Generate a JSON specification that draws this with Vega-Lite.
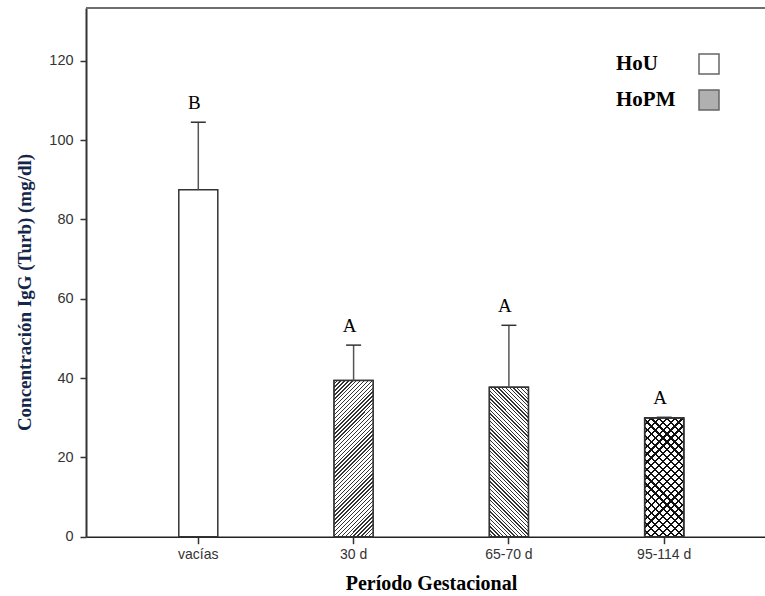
{
  "$schema": "https://vega.github.io/schema/vega-lite/v6.json",
  "width": 679,
  "height": 528.7,
  "autosize": {"type": "none"},
  "padding": {"left": 86, "top": 8, "right": 0, "bottom": 59},
  "background": "white",
  "config": {"view": {"stroke": null}, "font": "Liberation Sans"},
  "data": {
    "values": [
      {"period": "vacías", "group": "HoU", "value": 87.5, "errTop": 104.5, "letter": "B"},
      {"period": "30 d", "group": "HoPM", "value": 39.4, "errTop": 48.3, "letter": "A"},
      {"period": "65-70 d", "group": "HoPM", "value": 37.7, "errTop": 53.3, "letter": "A"},
      {"period": "95-114 d", "group": "HoPM", "value": 29.9, "errTop": 30.1, "letter": "A"}
    ]
  },
  "layer": [
    {
      "mark": {"type": "bar", "width": 39, "stroke": "#333", "strokeWidth": 1.5},
      "encoding": {
        "x": {
          "field": "period", "type": "nominal",
          "sort": ["vacías", "30 d", "65-70 d", "95-114 d"],
          "scale": {"paddingInner": 0, "paddingOuter": 0.186, "align": 0.5995},
          "axis": {
            "title": "Período Gestacional",
            "titleFont": "Liberation Serif", "titleFontSize": 20, "titleFontWeight": "bold", "titleColor": "#000",
            "titleX": 345, "titleY": 53, "titleBaseline": "alphabetic", "titleAlign": "center",
            "labelAngle": 0, "labelFont": "Liberation Sans", "labelFontSize": 14, "labelColor": "#333", "labelPadding": 4,
            "tickSize": 7, "tickColor": "#333", "tickWidth": 1.5,
            "domainColor": "#222", "domainWidth": 1.5, "grid": false
          }
        },
        "y": {
          "field": "value", "type": "quantitative",
          "title": "Concentración IgG (Turb) (mg/dl)",
          "scale": {"domain": [0, 133.3], "nice": false, "zero": true},
          "axis": {
            "title": "Concentración IgG (Turb) (mg/dl)",
            "values": [0, 20, 40, 60, 80, 100, 120],
            "titleFont": "Liberation Serif", "titleFontSize": 19, "titleFontWeight": "bold", "titleColor": "#14264a",
            "titleAngle": -90, "titleX": -56, "titleY": 284, "titleBaseline": "alphabetic", "titleAlign": "center",
            "labelFont": "Liberation Sans", "labelFontSize": 14.5, "labelColor": "#333", "labelPadding": 7,
            "tickSize": 6, "tickColor": "#333", "tickWidth": 1.5,
            "domainColor": "#333", "domainWidth": 2, "grid": false
          }
        },
        "fill": {
          "field": "group", "type": "nominal",
          "scale": {"domain": ["HoU", "HoPM"], "range": ["#ffffff", "#b0b0b0"]},
          "legend": {
            "title": null, "orient": "none", "legendX": 612, "legendY": 45,
            "symbolType": "square", "symbolSize": 400, "symbolStrokeColor": "#666", "symbolStrokeWidth": 1.5, "symbolOpacity": 1,
            "labelFont": "Liberation Serif", "labelFontSize": 21, "labelFontWeight": "bold", "labelColor": "#000",
            "labelAlign": "left", "labelOffset": -104, "rowPadding": 10, "padding": 0
          }
        }
      }
    },
    {
      "transform": [{"filter": "datum.period === '30 d'"}],
      "mark": {
        "type": "bar", "width": 39, "stroke": "#333", "strokeWidth": 1.5,
        "fill": {
          "gradient": "linear", "x1": 0, "y1": 0, "x2": 0.2937, "y2": 1.1764,
          "stops": [
{"offset":0,"color":"#fff"},{"offset":0.013,"color":"#fff"},{"offset":0.013,"color":"#333"},{"offset":0.02,"color":"#333"},
{"offset":0.02,"color":"#fff"},{"offset":0.033,"color":"#fff"},{"offset":0.033,"color":"#333"},{"offset":0.04,"color":"#333"},
{"offset":0.04,"color":"#fff"},{"offset":0.053,"color":"#fff"},{"offset":0.053,"color":"#333"},{"offset":0.06,"color":"#333"},
{"offset":0.06,"color":"#fff"},{"offset":0.073,"color":"#fff"},{"offset":0.073,"color":"#333"},{"offset":0.08,"color":"#333"},
{"offset":0.08,"color":"#fff"},{"offset":0.093,"color":"#fff"},{"offset":0.093,"color":"#333"},{"offset":0.1,"color":"#333"},
{"offset":0.1,"color":"#fff"},{"offset":0.113,"color":"#fff"},{"offset":0.113,"color":"#333"},{"offset":0.12,"color":"#333"},
{"offset":0.12,"color":"#fff"},{"offset":0.133,"color":"#fff"},{"offset":0.133,"color":"#333"},{"offset":0.14,"color":"#333"},
{"offset":0.14,"color":"#fff"},{"offset":0.153,"color":"#fff"},{"offset":0.153,"color":"#333"},{"offset":0.16,"color":"#333"},
{"offset":0.16,"color":"#fff"},{"offset":0.173,"color":"#fff"},{"offset":0.173,"color":"#333"},{"offset":0.18,"color":"#333"},
{"offset":0.18,"color":"#fff"},{"offset":0.193,"color":"#fff"},{"offset":0.193,"color":"#333"},{"offset":0.2,"color":"#333"},
{"offset":0.2,"color":"#fff"},{"offset":0.213,"color":"#fff"},{"offset":0.213,"color":"#333"},{"offset":0.22,"color":"#333"},
{"offset":0.22,"color":"#fff"},{"offset":0.233,"color":"#fff"},{"offset":0.233,"color":"#333"},{"offset":0.24,"color":"#333"},
{"offset":0.24,"color":"#fff"},{"offset":0.253,"color":"#fff"},{"offset":0.253,"color":"#333"},{"offset":0.26,"color":"#333"},
{"offset":0.26,"color":"#fff"},{"offset":0.273,"color":"#fff"},{"offset":0.273,"color":"#333"},{"offset":0.28,"color":"#333"},
{"offset":0.28,"color":"#fff"},{"offset":0.293,"color":"#fff"},{"offset":0.293,"color":"#333"},{"offset":0.3,"color":"#333"},
{"offset":0.3,"color":"#fff"},{"offset":0.313,"color":"#fff"},{"offset":0.313,"color":"#333"},{"offset":0.32,"color":"#333"},
{"offset":0.32,"color":"#fff"},{"offset":0.333,"color":"#fff"},{"offset":0.333,"color":"#333"},{"offset":0.34,"color":"#333"},
{"offset":0.34,"color":"#fff"},{"offset":0.353,"color":"#fff"},{"offset":0.353,"color":"#333"},{"offset":0.36,"color":"#333"},
{"offset":0.36,"color":"#fff"},{"offset":0.373,"color":"#fff"},{"offset":0.373,"color":"#333"},{"offset":0.38,"color":"#333"},
{"offset":0.38,"color":"#fff"},{"offset":0.393,"color":"#fff"},{"offset":0.393,"color":"#333"},{"offset":0.4,"color":"#333"},
{"offset":0.4,"color":"#fff"},{"offset":0.413,"color":"#fff"},{"offset":0.413,"color":"#333"},{"offset":0.42,"color":"#333"},
{"offset":0.42,"color":"#fff"},{"offset":0.433,"color":"#fff"},{"offset":0.433,"color":"#333"},{"offset":0.44,"color":"#333"},
{"offset":0.44,"color":"#fff"},{"offset":0.453,"color":"#fff"},{"offset":0.453,"color":"#333"},{"offset":0.46,"color":"#333"},
{"offset":0.46,"color":"#fff"},{"offset":0.473,"color":"#fff"},{"offset":0.473,"color":"#333"},{"offset":0.48,"color":"#333"},
{"offset":0.48,"color":"#fff"},{"offset":0.493,"color":"#fff"},{"offset":0.493,"color":"#333"},{"offset":0.5,"color":"#333"},
{"offset":0.5,"color":"#fff"},{"offset":0.513,"color":"#fff"},{"offset":0.513,"color":"#333"},{"offset":0.52,"color":"#333"},
{"offset":0.52,"color":"#fff"},{"offset":0.533,"color":"#fff"},{"offset":0.533,"color":"#333"},{"offset":0.54,"color":"#333"},
{"offset":0.54,"color":"#fff"},{"offset":0.553,"color":"#fff"},{"offset":0.553,"color":"#333"},{"offset":0.56,"color":"#333"},
{"offset":0.56,"color":"#fff"},{"offset":0.573,"color":"#fff"},{"offset":0.573,"color":"#333"},{"offset":0.58,"color":"#333"},
{"offset":0.58,"color":"#fff"},{"offset":0.593,"color":"#fff"},{"offset":0.593,"color":"#333"},{"offset":0.6,"color":"#333"},
{"offset":0.6,"color":"#fff"},{"offset":0.613,"color":"#fff"},{"offset":0.613,"color":"#333"},{"offset":0.62,"color":"#333"},
{"offset":0.62,"color":"#fff"},{"offset":0.633,"color":"#fff"},{"offset":0.633,"color":"#333"},{"offset":0.64,"color":"#333"},
{"offset":0.64,"color":"#fff"},{"offset":0.653,"color":"#fff"},{"offset":0.653,"color":"#333"},{"offset":0.66,"color":"#333"},
{"offset":0.66,"color":"#fff"},{"offset":0.673,"color":"#fff"},{"offset":0.673,"color":"#333"},{"offset":0.68,"color":"#333"},
{"offset":0.68,"color":"#fff"},{"offset":0.693,"color":"#fff"},{"offset":0.693,"color":"#333"},{"offset":0.7,"color":"#333"},
{"offset":0.7,"color":"#fff"},{"offset":0.713,"color":"#fff"},{"offset":0.713,"color":"#333"},{"offset":0.72,"color":"#333"},
{"offset":0.72,"color":"#fff"},{"offset":0.733,"color":"#fff"},{"offset":0.733,"color":"#333"},{"offset":0.74,"color":"#333"},
{"offset":0.74,"color":"#fff"},{"offset":0.753,"color":"#fff"},{"offset":0.753,"color":"#333"},{"offset":0.76,"color":"#333"},
{"offset":0.76,"color":"#fff"},{"offset":0.773,"color":"#fff"},{"offset":0.773,"color":"#333"},{"offset":0.78,"color":"#333"},
{"offset":0.78,"color":"#fff"},{"offset":0.793,"color":"#fff"},{"offset":0.793,"color":"#333"},{"offset":0.8,"color":"#333"},
{"offset":0.8,"color":"#fff"},{"offset":0.813,"color":"#fff"},{"offset":0.813,"color":"#333"},{"offset":0.82,"color":"#333"},
{"offset":0.82,"color":"#fff"},{"offset":0.833,"color":"#fff"},{"offset":0.833,"color":"#333"},{"offset":0.84,"color":"#333"},
{"offset":0.84,"color":"#fff"},{"offset":0.853,"color":"#fff"},{"offset":0.853,"color":"#333"},{"offset":0.86,"color":"#333"},
{"offset":0.86,"color":"#fff"},{"offset":0.873,"color":"#fff"},{"offset":0.873,"color":"#333"},{"offset":0.88,"color":"#333"},
{"offset":0.88,"color":"#fff"},{"offset":0.893,"color":"#fff"},{"offset":0.893,"color":"#333"},{"offset":0.9,"color":"#333"},
{"offset":0.9,"color":"#fff"},{"offset":0.913,"color":"#fff"},{"offset":0.913,"color":"#333"},{"offset":0.92,"color":"#333"},
{"offset":0.92,"color":"#fff"},{"offset":0.933,"color":"#fff"},{"offset":0.933,"color":"#333"},{"offset":0.94,"color":"#333"},
{"offset":0.94,"color":"#fff"},{"offset":0.953,"color":"#fff"},{"offset":0.953,"color":"#333"},{"offset":0.96,"color":"#333"},
{"offset":0.96,"color":"#fff"},{"offset":0.973,"color":"#fff"},{"offset":0.973,"color":"#333"},{"offset":0.98,"color":"#333"},
{"offset":0.98,"color":"#fff"},{"offset":0.993,"color":"#fff"},{"offset":0.993,"color":"#333"},{"offset":1,"color":"#333"}
          ]
        }
      },
      "encoding": {
        "x": {"field": "period", "type": "nominal", "sort": ["vacías", "30 d", "65-70 d", "95-114 d"]},
        "y": {"field": "value", "type": "quantitative", "title": "Concentración IgG (Turb) (mg/dl)"}
      }
    },
    {
      "transform": [{"filter": "datum.period === '65-70 d'"}],
      "mark": {
        "type": "bar", "width": 39, "stroke": "#333", "strokeWidth": 1.5,
        "fill": {
          "gradient": "linear", "x1": 0, "y1": 1, "x2": 0.3081, "y2": -0.1806,
          "stops": [
{"offset":0,"color":"#fff"},{"offset":0.013,"color":"#fff"},{"offset":0.013,"color":"#333"},{"offset":0.02,"color":"#333"},
{"offset":0.02,"color":"#fff"},{"offset":0.033,"color":"#fff"},{"offset":0.033,"color":"#333"},{"offset":0.04,"color":"#333"},
{"offset":0.04,"color":"#fff"},{"offset":0.053,"color":"#fff"},{"offset":0.053,"color":"#333"},{"offset":0.06,"color":"#333"},
{"offset":0.06,"color":"#fff"},{"offset":0.073,"color":"#fff"},{"offset":0.073,"color":"#333"},{"offset":0.08,"color":"#333"},
{"offset":0.08,"color":"#fff"},{"offset":0.093,"color":"#fff"},{"offset":0.093,"color":"#333"},{"offset":0.1,"color":"#333"},
{"offset":0.1,"color":"#fff"},{"offset":0.113,"color":"#fff"},{"offset":0.113,"color":"#333"},{"offset":0.12,"color":"#333"},
{"offset":0.12,"color":"#fff"},{"offset":0.133,"color":"#fff"},{"offset":0.133,"color":"#333"},{"offset":0.14,"color":"#333"},
{"offset":0.14,"color":"#fff"},{"offset":0.153,"color":"#fff"},{"offset":0.153,"color":"#333"},{"offset":0.16,"color":"#333"},
{"offset":0.16,"color":"#fff"},{"offset":0.173,"color":"#fff"},{"offset":0.173,"color":"#333"},{"offset":0.18,"color":"#333"},
{"offset":0.18,"color":"#fff"},{"offset":0.193,"color":"#fff"},{"offset":0.193,"color":"#333"},{"offset":0.2,"color":"#333"},
{"offset":0.2,"color":"#fff"},{"offset":0.213,"color":"#fff"},{"offset":0.213,"color":"#333"},{"offset":0.22,"color":"#333"},
{"offset":0.22,"color":"#fff"},{"offset":0.233,"color":"#fff"},{"offset":0.233,"color":"#333"},{"offset":0.24,"color":"#333"},
{"offset":0.24,"color":"#fff"},{"offset":0.253,"color":"#fff"},{"offset":0.253,"color":"#333"},{"offset":0.26,"color":"#333"},
{"offset":0.26,"color":"#fff"},{"offset":0.273,"color":"#fff"},{"offset":0.273,"color":"#333"},{"offset":0.28,"color":"#333"},
{"offset":0.28,"color":"#fff"},{"offset":0.293,"color":"#fff"},{"offset":0.293,"color":"#333"},{"offset":0.3,"color":"#333"},
{"offset":0.3,"color":"#fff"},{"offset":0.313,"color":"#fff"},{"offset":0.313,"color":"#333"},{"offset":0.32,"color":"#333"},
{"offset":0.32,"color":"#fff"},{"offset":0.333,"color":"#fff"},{"offset":0.333,"color":"#333"},{"offset":0.34,"color":"#333"},
{"offset":0.34,"color":"#fff"},{"offset":0.353,"color":"#fff"},{"offset":0.353,"color":"#333"},{"offset":0.36,"color":"#333"},
{"offset":0.36,"color":"#fff"},{"offset":0.373,"color":"#fff"},{"offset":0.373,"color":"#333"},{"offset":0.38,"color":"#333"},
{"offset":0.38,"color":"#fff"},{"offset":0.393,"color":"#fff"},{"offset":0.393,"color":"#333"},{"offset":0.4,"color":"#333"},
{"offset":0.4,"color":"#fff"},{"offset":0.413,"color":"#fff"},{"offset":0.413,"color":"#333"},{"offset":0.42,"color":"#333"},
{"offset":0.42,"color":"#fff"},{"offset":0.433,"color":"#fff"},{"offset":0.433,"color":"#333"},{"offset":0.44,"color":"#333"},
{"offset":0.44,"color":"#fff"},{"offset":0.453,"color":"#fff"},{"offset":0.453,"color":"#333"},{"offset":0.46,"color":"#333"},
{"offset":0.46,"color":"#fff"},{"offset":0.473,"color":"#fff"},{"offset":0.473,"color":"#333"},{"offset":0.48,"color":"#333"},
{"offset":0.48,"color":"#fff"},{"offset":0.493,"color":"#fff"},{"offset":0.493,"color":"#333"},{"offset":0.5,"color":"#333"},
{"offset":0.5,"color":"#fff"},{"offset":0.513,"color":"#fff"},{"offset":0.513,"color":"#333"},{"offset":0.52,"color":"#333"},
{"offset":0.52,"color":"#fff"},{"offset":0.533,"color":"#fff"},{"offset":0.533,"color":"#333"},{"offset":0.54,"color":"#333"},
{"offset":0.54,"color":"#fff"},{"offset":0.553,"color":"#fff"},{"offset":0.553,"color":"#333"},{"offset":0.56,"color":"#333"},
{"offset":0.56,"color":"#fff"},{"offset":0.573,"color":"#fff"},{"offset":0.573,"color":"#333"},{"offset":0.58,"color":"#333"},
{"offset":0.58,"color":"#fff"},{"offset":0.593,"color":"#fff"},{"offset":0.593,"color":"#333"},{"offset":0.6,"color":"#333"},
{"offset":0.6,"color":"#fff"},{"offset":0.613,"color":"#fff"},{"offset":0.613,"color":"#333"},{"offset":0.62,"color":"#333"},
{"offset":0.62,"color":"#fff"},{"offset":0.633,"color":"#fff"},{"offset":0.633,"color":"#333"},{"offset":0.64,"color":"#333"},
{"offset":0.64,"color":"#fff"},{"offset":0.653,"color":"#fff"},{"offset":0.653,"color":"#333"},{"offset":0.66,"color":"#333"},
{"offset":0.66,"color":"#fff"},{"offset":0.673,"color":"#fff"},{"offset":0.673,"color":"#333"},{"offset":0.68,"color":"#333"},
{"offset":0.68,"color":"#fff"},{"offset":0.693,"color":"#fff"},{"offset":0.693,"color":"#333"},{"offset":0.7,"color":"#333"},
{"offset":0.7,"color":"#fff"},{"offset":0.713,"color":"#fff"},{"offset":0.713,"color":"#333"},{"offset":0.72,"color":"#333"},
{"offset":0.72,"color":"#fff"},{"offset":0.733,"color":"#fff"},{"offset":0.733,"color":"#333"},{"offset":0.74,"color":"#333"},
{"offset":0.74,"color":"#fff"},{"offset":0.753,"color":"#fff"},{"offset":0.753,"color":"#333"},{"offset":0.76,"color":"#333"},
{"offset":0.76,"color":"#fff"},{"offset":0.773,"color":"#fff"},{"offset":0.773,"color":"#333"},{"offset":0.78,"color":"#333"},
{"offset":0.78,"color":"#fff"},{"offset":0.793,"color":"#fff"},{"offset":0.793,"color":"#333"},{"offset":0.8,"color":"#333"},
{"offset":0.8,"color":"#fff"},{"offset":0.813,"color":"#fff"},{"offset":0.813,"color":"#333"},{"offset":0.82,"color":"#333"},
{"offset":0.82,"color":"#fff"},{"offset":0.833,"color":"#fff"},{"offset":0.833,"color":"#333"},{"offset":0.84,"color":"#333"},
{"offset":0.84,"color":"#fff"},{"offset":0.853,"color":"#fff"},{"offset":0.853,"color":"#333"},{"offset":0.86,"color":"#333"},
{"offset":0.86,"color":"#fff"},{"offset":0.873,"color":"#fff"},{"offset":0.873,"color":"#333"},{"offset":0.88,"color":"#333"},
{"offset":0.88,"color":"#fff"},{"offset":0.893,"color":"#fff"},{"offset":0.893,"color":"#333"},{"offset":0.9,"color":"#333"},
{"offset":0.9,"color":"#fff"},{"offset":0.913,"color":"#fff"},{"offset":0.913,"color":"#333"},{"offset":0.92,"color":"#333"},
{"offset":0.92,"color":"#fff"},{"offset":0.933,"color":"#fff"},{"offset":0.933,"color":"#333"},{"offset":0.94,"color":"#333"},
{"offset":0.94,"color":"#fff"},{"offset":0.953,"color":"#fff"},{"offset":0.953,"color":"#333"},{"offset":0.96,"color":"#333"},
{"offset":0.96,"color":"#fff"},{"offset":0.973,"color":"#fff"},{"offset":0.973,"color":"#333"},{"offset":0.98,"color":"#333"},
{"offset":0.98,"color":"#fff"},{"offset":0.993,"color":"#fff"},{"offset":0.993,"color":"#333"},{"offset":1,"color":"#333"}
          ]
        }
      },
      "encoding": {
        "x": {"field": "period", "type": "nominal", "sort": ["vacías", "30 d", "65-70 d", "95-114 d"]},
        "y": {"field": "value", "type": "quantitative", "title": "Concentración IgG (Turb) (mg/dl)"}
      }
    },
    {
      "transform": [{"filter": "datum.period === '95-114 d'"}],
      "mark": {
        "type": "bar", "width": 39, "stroke": "#333", "strokeWidth": 1.5,
        "fill": {
          "gradient": "linear", "x1": 0, "y1": 0, "x2": 0.3945, "y2": 1.1991,
          "stops": [
{"offset":0,"color":"#fff"},{"offset":0.036,"color":"#fff"},{"offset":0.036,"color":"#111"},{"offset":0.05,"color":"#111"},
{"offset":0.05,"color":"#fff"},{"offset":0.086,"color":"#fff"},{"offset":0.086,"color":"#111"},{"offset":0.1,"color":"#111"},
{"offset":0.1,"color":"#fff"},{"offset":0.136,"color":"#fff"},{"offset":0.136,"color":"#111"},{"offset":0.15,"color":"#111"},
{"offset":0.15,"color":"#fff"},{"offset":0.186,"color":"#fff"},{"offset":0.186,"color":"#111"},{"offset":0.2,"color":"#111"},
{"offset":0.2,"color":"#fff"},{"offset":0.236,"color":"#fff"},{"offset":0.236,"color":"#111"},{"offset":0.25,"color":"#111"},
{"offset":0.25,"color":"#fff"},{"offset":0.286,"color":"#fff"},{"offset":0.286,"color":"#111"},{"offset":0.3,"color":"#111"},
{"offset":0.3,"color":"#fff"},{"offset":0.336,"color":"#fff"},{"offset":0.336,"color":"#111"},{"offset":0.35,"color":"#111"},
{"offset":0.35,"color":"#fff"},{"offset":0.386,"color":"#fff"},{"offset":0.386,"color":"#111"},{"offset":0.4,"color":"#111"},
{"offset":0.4,"color":"#fff"},{"offset":0.436,"color":"#fff"},{"offset":0.436,"color":"#111"},{"offset":0.45,"color":"#111"},
{"offset":0.45,"color":"#fff"},{"offset":0.486,"color":"#fff"},{"offset":0.486,"color":"#111"},{"offset":0.5,"color":"#111"},
{"offset":0.5,"color":"#fff"},{"offset":0.536,"color":"#fff"},{"offset":0.536,"color":"#111"},{"offset":0.55,"color":"#111"},
{"offset":0.55,"color":"#fff"},{"offset":0.586,"color":"#fff"},{"offset":0.586,"color":"#111"},{"offset":0.6,"color":"#111"},
{"offset":0.6,"color":"#fff"},{"offset":0.636,"color":"#fff"},{"offset":0.636,"color":"#111"},{"offset":0.65,"color":"#111"},
{"offset":0.65,"color":"#fff"},{"offset":0.686,"color":"#fff"},{"offset":0.686,"color":"#111"},{"offset":0.7,"color":"#111"},
{"offset":0.7,"color":"#fff"},{"offset":0.736,"color":"#fff"},{"offset":0.736,"color":"#111"},{"offset":0.75,"color":"#111"},
{"offset":0.75,"color":"#fff"},{"offset":0.786,"color":"#fff"},{"offset":0.786,"color":"#111"},{"offset":0.8,"color":"#111"},
{"offset":0.8,"color":"#fff"},{"offset":0.836,"color":"#fff"},{"offset":0.836,"color":"#111"},{"offset":0.85,"color":"#111"},
{"offset":0.85,"color":"#fff"},{"offset":0.886,"color":"#fff"},{"offset":0.886,"color":"#111"},{"offset":0.9,"color":"#111"},
{"offset":0.9,"color":"#fff"},{"offset":0.936,"color":"#fff"},{"offset":0.936,"color":"#111"},{"offset":0.95,"color":"#111"},
{"offset":0.95,"color":"#fff"},{"offset":0.986,"color":"#fff"},{"offset":0.986,"color":"#111"},{"offset":1,"color":"#111"}
          ]
        }
      },
      "encoding": {
        "x": {"field": "period", "type": "nominal", "sort": ["vacías", "30 d", "65-70 d", "95-114 d"]},
        "y": {"field": "value", "type": "quantitative", "title": "Concentración IgG (Turb) (mg/dl)"}
      }
    },
    {
      "transform": [{"filter": "datum.period === '95-114 d'"}],
      "mark": {
        "type": "bar", "width": 39, "stroke": "#333", "strokeWidth": 1.5,
        "fill": {
          "gradient": "linear", "x1": 0, "y1": 1, "x2": 0.3945, "y2": -0.1991,
          "stops": [
{"offset":0,"color":"rgba(0,0,0,0)"},{"offset":0.036,"color":"rgba(0,0,0,0)"},{"offset":0.036,"color":"#111"},{"offset":0.05,"color":"#111"},
{"offset":0.05,"color":"rgba(0,0,0,0)"},{"offset":0.086,"color":"rgba(0,0,0,0)"},{"offset":0.086,"color":"#111"},{"offset":0.1,"color":"#111"},
{"offset":0.1,"color":"rgba(0,0,0,0)"},{"offset":0.136,"color":"rgba(0,0,0,0)"},{"offset":0.136,"color":"#111"},{"offset":0.15,"color":"#111"},
{"offset":0.15,"color":"rgba(0,0,0,0)"},{"offset":0.186,"color":"rgba(0,0,0,0)"},{"offset":0.186,"color":"#111"},{"offset":0.2,"color":"#111"},
{"offset":0.2,"color":"rgba(0,0,0,0)"},{"offset":0.236,"color":"rgba(0,0,0,0)"},{"offset":0.236,"color":"#111"},{"offset":0.25,"color":"#111"},
{"offset":0.25,"color":"rgba(0,0,0,0)"},{"offset":0.286,"color":"rgba(0,0,0,0)"},{"offset":0.286,"color":"#111"},{"offset":0.3,"color":"#111"},
{"offset":0.3,"color":"rgba(0,0,0,0)"},{"offset":0.336,"color":"rgba(0,0,0,0)"},{"offset":0.336,"color":"#111"},{"offset":0.35,"color":"#111"},
{"offset":0.35,"color":"rgba(0,0,0,0)"},{"offset":0.386,"color":"rgba(0,0,0,0)"},{"offset":0.386,"color":"#111"},{"offset":0.4,"color":"#111"},
{"offset":0.4,"color":"rgba(0,0,0,0)"},{"offset":0.436,"color":"rgba(0,0,0,0)"},{"offset":0.436,"color":"#111"},{"offset":0.45,"color":"#111"},
{"offset":0.45,"color":"rgba(0,0,0,0)"},{"offset":0.486,"color":"rgba(0,0,0,0)"},{"offset":0.486,"color":"#111"},{"offset":0.5,"color":"#111"},
{"offset":0.5,"color":"rgba(0,0,0,0)"},{"offset":0.536,"color":"rgba(0,0,0,0)"},{"offset":0.536,"color":"#111"},{"offset":0.55,"color":"#111"},
{"offset":0.55,"color":"rgba(0,0,0,0)"},{"offset":0.586,"color":"rgba(0,0,0,0)"},{"offset":0.586,"color":"#111"},{"offset":0.6,"color":"#111"},
{"offset":0.6,"color":"rgba(0,0,0,0)"},{"offset":0.636,"color":"rgba(0,0,0,0)"},{"offset":0.636,"color":"#111"},{"offset":0.65,"color":"#111"},
{"offset":0.65,"color":"rgba(0,0,0,0)"},{"offset":0.686,"color":"rgba(0,0,0,0)"},{"offset":0.686,"color":"#111"},{"offset":0.7,"color":"#111"},
{"offset":0.7,"color":"rgba(0,0,0,0)"},{"offset":0.736,"color":"rgba(0,0,0,0)"},{"offset":0.736,"color":"#111"},{"offset":0.75,"color":"#111"},
{"offset":0.75,"color":"rgba(0,0,0,0)"},{"offset":0.786,"color":"rgba(0,0,0,0)"},{"offset":0.786,"color":"#111"},{"offset":0.8,"color":"#111"},
{"offset":0.8,"color":"rgba(0,0,0,0)"},{"offset":0.836,"color":"rgba(0,0,0,0)"},{"offset":0.836,"color":"#111"},{"offset":0.85,"color":"#111"},
{"offset":0.85,"color":"rgba(0,0,0,0)"},{"offset":0.886,"color":"rgba(0,0,0,0)"},{"offset":0.886,"color":"#111"},{"offset":0.9,"color":"#111"},
{"offset":0.9,"color":"rgba(0,0,0,0)"},{"offset":0.936,"color":"rgba(0,0,0,0)"},{"offset":0.936,"color":"#111"},{"offset":0.95,"color":"#111"},
{"offset":0.95,"color":"rgba(0,0,0,0)"},{"offset":0.986,"color":"rgba(0,0,0,0)"},{"offset":0.986,"color":"#111"},{"offset":1,"color":"#111"}
          ]
        }
      },
      "encoding": {
        "x": {"field": "period", "type": "nominal", "sort": ["vacías", "30 d", "65-70 d", "95-114 d"]},
        "y": {"field": "value", "type": "quantitative", "title": "Concentración IgG (Turb) (mg/dl)"}
      }
    },
    {
      "mark": {"type": "rule", "color": "#555", "strokeWidth": 1.5},
      "encoding": {
        "x": {"field": "period", "type": "nominal", "sort": ["vacías", "30 d", "65-70 d", "95-114 d"]},
        "y": {"field": "value", "type": "quantitative", "title": "Concentración IgG (Turb) (mg/dl)"},
        "y2": {"field": "errTop"}
      }
    },
    {
      "mark": {"type": "tick", "color": "#333", "size": 15, "thickness": 1.5, "opacity": 1},
      "encoding": {
        "x": {"field": "period", "type": "nominal", "sort": ["vacías", "30 d", "65-70 d", "95-114 d"]},
        "y": {"field": "errTop", "type": "quantitative", "title": "Concentración IgG (Turb) (mg/dl)"}
      }
    },
    {
      "mark": {"type": "text", "font": "Liberation Serif", "fontSize": 19, "color": "#000", "baseline": "alphabetic", "align": "center", "dy": -13, "dx": -4},
      "encoding": {
        "x": {"field": "period", "type": "nominal", "sort": ["vacías", "30 d", "65-70 d", "95-114 d"]},
        "y": {"field": "errTop", "type": "quantitative", "title": "Concentración IgG (Turb) (mg/dl)"},
        "text": {"field": "letter"}
      }
    },
    {
      "mark": {"type": "rule", "color": "#6e6e6e", "strokeWidth": 2},
      "encoding": {
        "y": {"datum": 133.3, "type": "quantitative", "title": "Concentración IgG (Turb) (mg/dl)"}
      }
    }
  ]
}
